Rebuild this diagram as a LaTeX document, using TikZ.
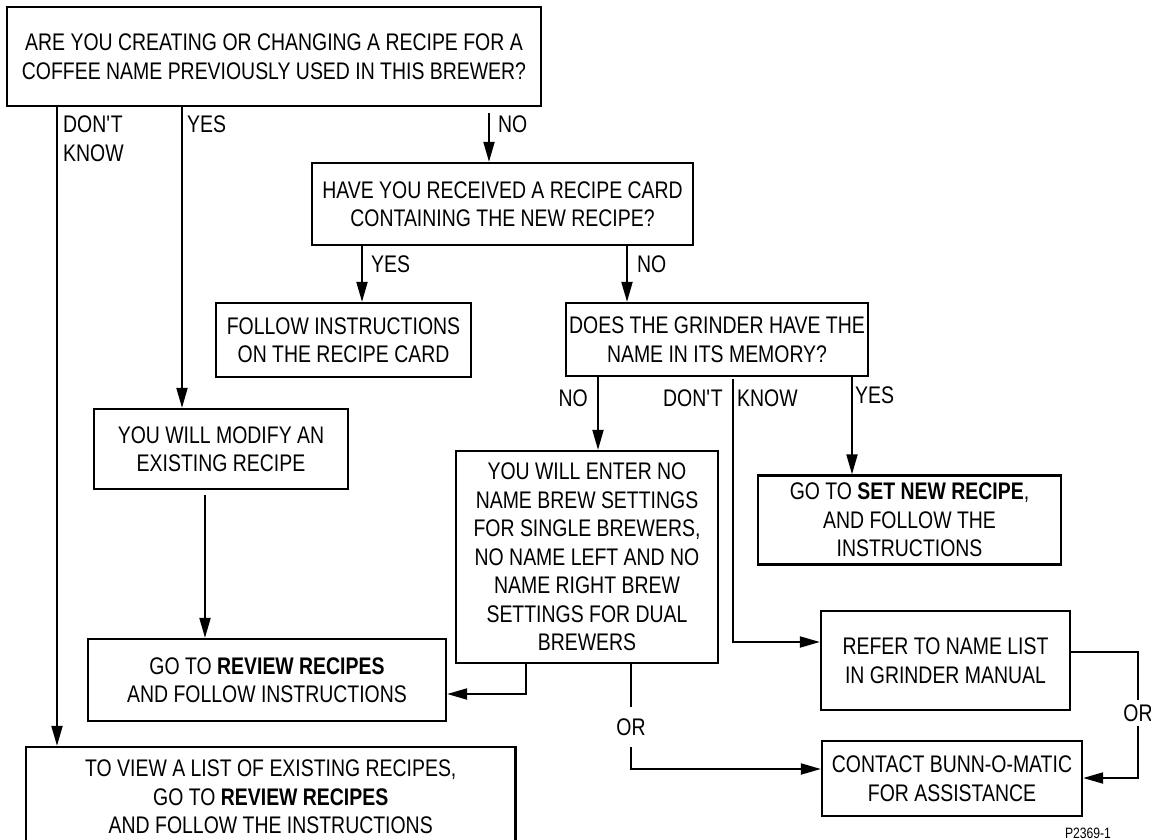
\documentclass[tikz,border=0pt]{standalone}
\usepackage{fontspec}
\setmainfont{Liberation Sans}[FakeStretch=0.81]
\usetikzlibrary{arrows.meta}
\begin{document}
\begin{tikzpicture}[x=1pt,y=-1pt,
  every node/.style={font=\fontsize{24}{28.5}\selectfont},
  box/.style={draw, line width=2.3pt, inner sep=0pt, align=center, anchor=center},
  conn/.style={line width=2pt},
  arr/.style={conn, -{Triangle[length=20pt,width=11pt]}},
  lbl/.style={inner sep=0pt},
  orlbl/.style={fill=white, inner xsep=2pt, inner ysep=#1},
  orlbl/.default=4pt]
\useasboundingbox (0,0) rectangle (1151,840);
% boxes
\node[box, minimum width=534pt, minimum height=99pt] (b1) at (274,56.5)
  {ARE YOU CREATING OR CHANGING A RECIPE FOR A\\COFFEE NAME PREVIOUSLY USED IN THIS BREWER?};
\node[box, minimum width=381pt, minimum height=82pt] (b2) at (502.5,204)
  {HAVE YOU RECEIVED A RECIPE CARD\\CONTAINING THE NEW RECIPE?};
\node[box, minimum width=255pt, minimum height=74pt] (b3) at (343.5,340)
  {FOLLOW INSTRUCTIONS\\ON THE RECIPE CARD};
\node[box, minimum width=302pt, minimum height=73pt] (b4) at (717,339.5)
  {DOES THE GRINDER HAVE THE\\NAME IN ITS MEMORY?};
\node[box, minimum width=254pt, minimum height=80pt] (b5) at (221,449)
  {YOU WILL MODIFY AN\\EXISTING RECIPE};
\node[box, minimum width=262pt, minimum height=212pt] (b6) at (587,557)
  {YOU WILL ENTER NO\\NAME BREW SETTINGS\\FOR SINGLE BREWERS,\\NO NAME LEFT AND NO\\NAME RIGHT BREW\\SETTINGS FOR DUAL\\BREWERS};
\node[box, minimum width=358pt, minimum height=82pt] (b7) at (267,680)
  {GO TO \textbf{REVIEW RECIPES}\\AND FOLLOW INSTRUCTIONS};
\node[box, minimum width=249pt, minimum height=99pt] (b8) at (945.5,660.5)
  {REFER TO NAME LIST\\IN GRINDER MANUAL};
\node[box, minimum width=303pt, minimum height=89pt] (b9) at (909.5,520)
  {GO TO \textbf{SET NEW RECIPE},\\AND FOLLOW THE\\INSTRUCTIONS};
\node[box, minimum width=260pt, minimum height=75pt] (b10) at (952,778.5)
  {CONTACT BUNN-O-MATIC\\FOR ASSISTANCE};
\node[box, minimum width=489.5pt, minimum height=100pt] (b11) at (270.75,797)
  {TO VIEW A LIST OF EXISTING RECIPES,\\GO TO \textbf{REVIEW RECIPES}\\AND FOLLOW THE INSTRUCTIONS};
% connector positions
\coordinate (c1) at (57,0);
\coordinate (c2) at (182,0);
\coordinate (c3) at (489,0);
\coordinate (c4) at (362,0);
\coordinate (c5) at (627,0);
\coordinate (c6) at (598,0);
\coordinate (c7) at (733,642);
\coordinate (c8) at (852,0);
\coordinate (c9) at (205,0);
\coordinate (c10) at (526,694);
\coordinate (c11) at (631,769);
\coordinate (c12) at (0,652);
\coordinate (c13) at (1138,778);
% connectors
\draw[arr] (b1.south -| c1) -- (b11.north -| c1);
\draw[arr] (b1.south -| c2) -- (b5.north -| c2);
\draw[arr, shorten <=6pt] (b1.south -| c3) -- (b2.north -| c3);
\draw[arr] (b2.south -| c4) -- (b3.north -| c4);
\draw[arr] (b2.south -| c5) -- (b4.north -| c5);
\draw[arr] (b4.south -| c6) -- (b6.north -| c6);
\draw[arr, shorten <=2pt] (b4.south -| c7) |- (b8.west |- c7);
\draw[arr] (b4.south -| c8) -- (b9.north -| c8);
\draw[arr, shorten <=5pt] (b5.south -| c9) -- (b7.north -| c9);
\draw[arr] (b6.south -| c10) |- (b7.east |- c10);
\draw[arr] (b6.south -| c11) |- node[orlbl=11.5pt, pos=0.30] (or1) {OR} (b10.west |- c11);
\draw[arr] (b8.east |- c12) -| node[orlbl=4.5pt, pos=0.742] (or2) {OR} (c13) -- (b10.east |- c13);
% labels
\node[lbl, anchor=base west] (l1) at (63,133) {DON\textquotesingle T};
\node[lbl, anchor=base west] (l2) at (63,161) {KNOW};
\node[lbl, anchor=base west] (l3) at (187,133) {YES};
\node[lbl, anchor=base west] (l4) at (498,133) {NO};
\node[lbl, anchor=base west] (l5) at (371,272) {YES};
\node[lbl, anchor=base west] (l6) at (637,272) {NO};
\node[lbl, anchor=base east] (l7) at (588,406) {NO};
\node[lbl, anchor=base east] (l8) at (723,406) {DON\textquotesingle T};
\node[lbl, anchor=base west] (l9) at (737,406) {KNOW};
\node[lbl, anchor=base west] (l10) at (855,403) {YES};
\node[lbl, anchor=base, font=\fontsize{15}{18}\selectfont] (l11) at (1088,838) {P2369-1};
\end{tikzpicture}
\end{document}
